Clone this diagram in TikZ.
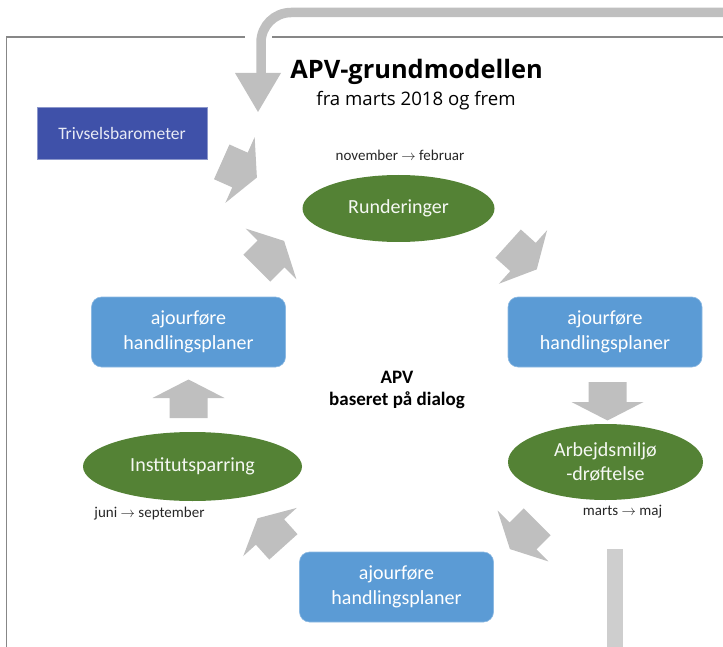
\documentclass[tikz,border=0pt]{standalone}
\usepackage{fontspec}
\setmainfont{Carlito}
\newfontfamily\titlefont{Open Sans}
\usetikzlibrary{shapes.geometric}

\definecolor{trivblue}{RGB}{63,81,169}
\definecolor{boxblue}{RGB}{91,155,213}
\definecolor{ellgreen}{RGB}{84,130,53}
\definecolor{arrgray}{RGB}{191,191,191}
\definecolor{bargray}{RGB}{206,206,206}
\definecolor{framegray}{RGB}{135,135,135}

\tikzset{
  framestyle/.style={draw=framegray, line width=1.6pt},
  tbox/.style={rectangle, fill=trivblue, draw=trivblue!60!white, line width=0.8pt,
    minimum width=170pt, minimum height=52pt, inner sep=0pt,
    text=white!88!trivblue, font=\fontsize{17.5}{21}\selectfont},
  hbox/.style={rectangle, rounded corners=10pt, fill=boxblue, draw=boxblue!70!white, line width=0.6pt,
    minimum width=194pt, minimum height=70pt, inner sep=0pt, align=center,
    text=white, font=\fontsize{20}{24.5}\selectfont},
  gell/.style={ellipse, fill=ellgreen, inner sep=0pt, align=center,
    text=white!94!ellgreen, font=\fontsize{20}{24}\selectfont},
  period/.style={anchor=base, inner sep=0pt, text=black!85, font=\fontsize{15}{18}\selectfont},
  arrowshape/.style={fill=arrgray}
}

\newcommand\cyclearrow[3]{%
  \fill[arrowshape, shift={(#1,#2)}, rotate=#3]
    (18.5,0) -- (0,36) -- (0,19) -- (-20,19) -- (-20,-19) -- (0,-19) -- (0,-36) -- cycle;}

\begin{document}
\begin{tikzpicture}[x=1pt,y=-1pt]
\useasboundingbox (0,0) rectangle (723,647);

% frame
\draw[framestyle] (6.5,37) -- (245,37);
\draw[framestyle] (272,37) -- (730,37);
\draw[framestyle] (6.5,36.2) -- (6.5,650);

% big curved arrow
\draw[arrgray, line width=9.5pt, rounded corners=30pt] (730,12.5) -- (261,12.5) -- (261,76);
\fill[arrgray] (235,73) -- (281,73) -- (258,112) -- cycle;

% right grey bar
\fill[bargray] (607,549) rectangle (623,650);

% title
\node[anchor=base, inner sep=0pt, font=\titlefont\bfseries\fontsize{25.4}{30}\selectfont] (title) at (416.5,79) {APV-grundmodellen};
\node[anchor=base, inner sep=0pt, font=\titlefont\fontsize{18.6}{22}\selectfont] (sub) at (416,106) {fra marts 2018 og frem};

% nodes
\node[tbox] (triv) at (122,133) {Trivselsbarometer};
\node[gell, minimum width=192pt, minimum height=67pt] (rund) at (398.5,208.5) {Runderinger};
\node[hbox] (boxR) at (605,332) {ajourføre\\handlingsplaner};
\node[gell, minimum width=195pt, minimum height=76pt] (arb) at (605.5,462) {Arbejdsmiljø\\-drøftelse};
\node[hbox] (boxB) at (396.5,587) {ajourføre\\handlingsplaner};
\node[gell, minimum width=219pt, minimum height=69pt] (inst) at (192.5,466.5) {Institutsparring};
\node[hbox] (boxL) at (188.5,332) {ajourføre\\handlingsplaner};

% centre text
\node[align=center, inner sep=0pt, font=\bfseries\fontsize{19}{21.5}\selectfont] (apv) at (397,390) {APV\\baseret på dialog};

% period labels
\node[period] (nov) at (400,161) {november $\rightarrow$ februar};
\node[period] (juni) at (149.5,517) {juni $\rightarrow$ september};
\node[period] (marts) at (622.5,515) {marts $\rightarrow$ maj};

% cycle arrows
\cyclearrow{240}{170}{-24}
\cyclearrow{523}{257}{-42}
\cyclearrow{607.5}{402}{-90}
\cyclearrow{523}{536}{-135}
\cyclearrow{270}{532}{132}
\cyclearrow{188.5}{398}{90}
\cyclearrow{271}{254}{45}
\end{tikzpicture}
\end{document}
